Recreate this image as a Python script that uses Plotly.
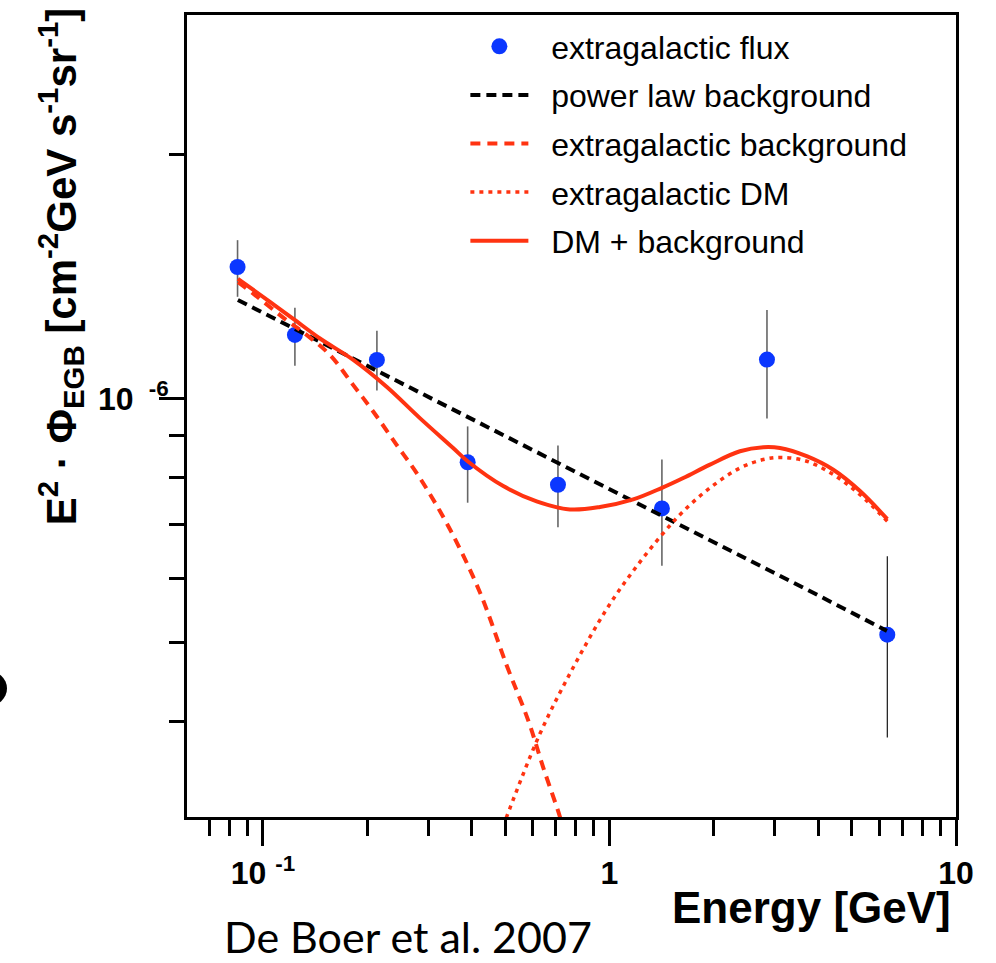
import plotly.graph_objects as go

# ---------------- data ----------------
energy = [0.0845, 0.1237, 0.2133, 0.3898, 0.7103, 1.417, 2.848, 6.335]
flux = [1.453e-6, 1.198e-6, 1.116e-6, 8.346e-7, 7.83e-7, 7.32e-7, 1.117e-6, 5.115e-7]
flux_hi = [1.568e-6, 1.294e-6, 1.212e-6, 9.24e-7, 8.75e-7, 8.41e-7, 1.286e-6, 6.39e-7]
flux_lo = [1.335e-6, 1.098e-6, 1.023e-6, 7.44e-7, 6.94e-7, 6.22e-7, 9.45e-7, 3.82e-7]

pl_energy = [0.0847, 0.2, 0.5, 1.0, 2.0, 4.0, 6.32]
pl_flux = [1.323e-6, 1.098e-6, 8.99e-7, 7.73e-7, 6.65e-7, 5.72e-7, 5.17e-7]

bg_energy = [0.0848, 0.0938, 0.1171, 0.1337, 0.1561, 0.1823, 0.2081, 0.2431,
             0.2838, 0.3465, 0.4228, 0.5050, 0.5829, 0.6438, 0.7196, 0.7436]
bg_flux = [1.392e-6, 1.347e-6, 1.249e-6, 1.198e-6, 1.132e-6, 1.039e-6, 9.64e-7, 8.77e-7,
           7.98e-7, 6.90e-7, 5.77e-7, 4.69e-7, 4.01e-7, 3.51e-7, 3.05e-7, 2.90e-7]

dm_energy = [0.483, 0.505, 0.630, 0.786, 0.9815, 1.171, 1.420, 1.633,
             1.950, 2.380, 2.779, 3.140, 3.708, 4.425, 5.285, 6.335]
dm_flux = [2.90e-7, 3.05e-7, 3.86e-7, 4.66e-7, 5.50e-7, 6.13e-7, 6.80e-7, 7.26e-7,
           7.76e-7, 8.21e-7, 8.41e-7, 8.46e-7, 8.37e-7, 8.06e-7, 7.61e-7, 7.06e-7]

tot_energy = [0.0847, 0.1048, 0.1224, 0.1461, 0.1823, 0.2275, 0.2838, 0.3540,
              0.3898, 0.4938, 0.6165, 0.7691, 0.9389, 1.171, 1.417, 1.633,
              1.950, 2.380, 2.779, 3.105, 3.708, 4.425, 5.285, 6.335]
tot_flux = [1.405e-6, 1.316e-6, 1.254e-6, 1.186e-6, 1.116e-6, 1.034e-6, 9.46e-7, 8.69e-7,
            8.37e-7, 7.80e-7, 7.47e-7, 7.30e-7, 7.35e-7, 7.51e-7, 7.76e-7, 7.98e-7,
            8.29e-7, 8.61e-7, 8.71e-7, 8.69e-7, 8.49e-7, 8.17e-7, 7.69e-7, 7.10e-7]

legend_names = ["extragalactic flux", "power law background", "extragalactic background",
                "extragalactic DM", "DM + background"]

x_major = [0.1, 1, 10]
x_major_text = ["10\u00a0<sup>-1</sup>", "1", "10"]
x_minor = [0.06, 0.07, 0.08, 0.09, 0.2, 0.3, 0.4, 0.5, 0.6, 0.7, 0.8, 0.9,
           2, 3, 4, 5, 6, 7, 8, 9]
y_major = [1e-6]
y_major_text = ["10\u00a0<sup>\u00a0-6</sup>"]
y_minor = [3e-7, 4e-7, 5e-7, 6e-7, 7e-7, 8e-7, 9e-7, 2e-6]

RED = "#ff3311"
BLUE = "#0b37ff"
FONT = "Liberation Sans, Arial, Helvetica, sans-serif"
PAD = "\u00a0\u00a0"

err_plus = [h - v for h, v in zip(flux_hi, flux)]
err_minus = [v - l for v, l in zip(flux, flux_lo)]
n_grey = 7  # the last point's error bar is drawn thinner, in black

fig = go.Figure()

fig.add_trace(go.Scatter(
    x=energy[:n_grey], y=flux[:n_grey], mode="markers", name=PAD + legend_names[0],
    legendgroup="a",
    marker=dict(color=BLUE, size=16, line=dict(width=0)),
    error_y=dict(type="data", array=err_plus[:n_grey], arrayminus=err_minus[:n_grey],
                 color="#666666", thickness=1.6, width=0),
))
fig.add_trace(go.Scatter(
    x=energy[n_grey:], y=flux[n_grey:], mode="markers", name=legend_names[0],
    legendgroup="a", showlegend=False,
    marker=dict(color=BLUE, size=16, line=dict(width=0)),
    error_y=dict(type="data", array=err_plus[n_grey:], arrayminus=err_minus[n_grey:],
                 color="black", thickness=1.1, width=0),
))
fig.add_trace(go.Scatter(
    x=pl_energy, y=pl_flux, mode="lines", name=PAD + legend_names[1],
    legendgroup="b",
    line=dict(color="black", width=4, dash="10px,6px"),
))
fig.add_trace(go.Scatter(
    x=bg_energy, y=bg_flux, mode="lines", name=PAD + legend_names[2],
    legendgroup="c",
    line=dict(color=RED, width=4, dash="10px,7px", shape="spline"),
))
fig.add_trace(go.Scatter(
    x=dm_energy, y=dm_flux, mode="lines", name=PAD + legend_names[3],
    legendgroup="d",
    line=dict(color=RED, width=3.5, dash="4px,5px", shape="spline"),
))
fig.add_trace(go.Scatter(
    x=tot_energy, y=tot_flux, mode="lines", name=PAD + legend_names[4],
    legendgroup="e",
    line=dict(color=RED, width=4, shape="spline"),
))

axis_common = dict(
    showgrid=False, zeroline=False, showline=True, linecolor="black",
    linewidth=3, mirror=True, ticks="outside", tickcolor="black", tickwidth=3,
    tickfont=dict(family=FONT, size=32, color="black", weight="bold"),
)

fig.update_xaxes(
    type="log", range=[-1.219, 1.0],
    tickmode="array", tickvals=x_major, ticktext=x_major_text, ticklen=26,
    minor=dict(tickmode="array", tickvals=x_minor, ticklen=16, tickwidth=3,
               tickcolor="black", ticks="outside", showgrid=False),
    **axis_common,
)
fig.update_yaxes(
    type="log", range=[-6.516, -5.527],
    tickmode="array", tickvals=y_major, ticktext=y_major_text, ticklen=25,
    ticklabelstandoff=-16,
    minor=dict(tickmode="array", tickvals=y_minor, ticklen=15, tickwidth=3,
               tickcolor="black", ticks="outside", showgrid=False),
    **axis_common,
)

fig.update_layout(
    width=996, height=963,
    margin=dict(l=187, r=40, t=12, b=146),
    paper_bgcolor="white", plot_bgcolor="white",
    showlegend=True,
    legend=dict(
        x=0.362, y=0.995, xanchor="left", yanchor="top",
        bgcolor="rgba(0,0,0,0)", borderwidth=0,
        font=dict(family=FONT, size=32, color="black"),
        tracegroupgap=4, itemwidth=58, traceorder="grouped",
    ),
    annotations=[
        dict(text="E<sup>2</sup> · Φ<sub>EGB</sub> [cm<sup>-2</sup>GeV s<sup>-1</sup>sr<sup>-1</sup>]",
             xref="paper", yref="paper", x=-0.165, y=0.6857,
             xanchor="center", yanchor="middle", textangle=-90, showarrow=False,
             font=dict(family=FONT, size=42, color="black", weight="bold")),
        dict(text="Energy [GeV]", xref="paper", yref="paper",
             x=(953 - 187) / 769, y=(817 - 908) / 805,
             xanchor="right", yanchor="middle", showarrow=False,
             font=dict(family=FONT, size=44, color="black", weight="bold")),
        dict(text="De Boer et al. 2007", xref="paper", yref="paper",
             x=(222 - 187) / 769, y=(817 - 937) / 805,
             xanchor="left", yanchor="middle", showarrow=False,
             font=dict(family="Lato, sans-serif", size=43, color="black")),
    ],
    shapes=[
        dict(type="circle", xref="paper", yref="paper",
             x0=(-32 - 187) / 769, x1=(7 - 187) / 769,
             y0=(817 - 706) / 805, y1=(817 - 670) / 805,
             fillcolor="black", line=dict(width=0)),
    ],
)

fig.write_html("out.html")
